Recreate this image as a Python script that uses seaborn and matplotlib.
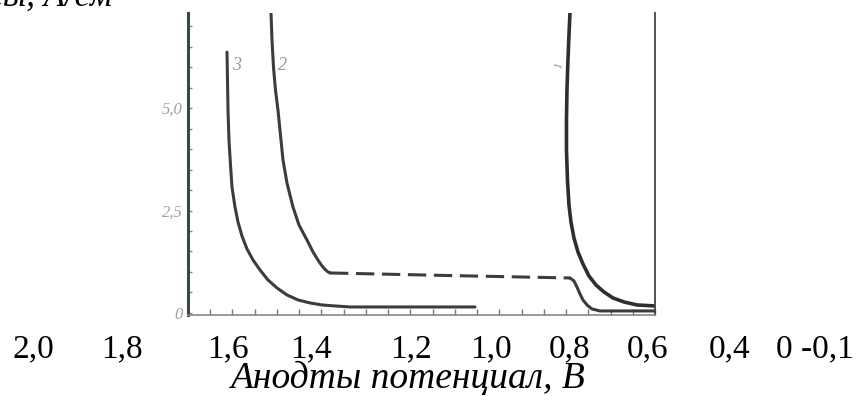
import numpy as np
import pandas as pd
import matplotlib
matplotlib.use("Agg")
import matplotlib.pyplot as plt
import seaborn as sns

# ---- data ----
# curve 3 (potential V, current density)
c3_x = [1.8246, 1.8224, 1.8201, 1.8157, 1.8089, 1.8022, 1.7887, 1.7752, 1.7572, 1.7347,
        1.7077, 1.6763, 1.6403, 1.5998, 1.5549, 1.5054, 1.4514, 1.3975, 1.3390, 1.2716,
        1.1367, 0.7095]
c3_y = [6.366, 5.683, 4.951, 4.220, 3.610, 3.073, 2.585, 2.220, 1.878, 1.561,
        1.293, 1.049, 0.805, 0.610, 0.439, 0.317, 0.244, 0.195, 0.171, 0.146,
        0.146, 0.146]
# curve 2: steep solid part, dashed plateau, final drop
c2a_x = [1.6268, 1.6223, 1.6156, 1.6066, 1.5954, 1.5841, 1.5728, 1.5549, 1.5279, 1.5009,
         1.4649, 1.4379, 1.4155, 1.3975, 1.3840, 1.3727, 1.3615]
c2a_y = [7.317, 6.659, 6.000, 5.439, 4.951, 4.341, 3.732, 3.171, 2.585, 2.146,
         1.780, 1.488, 1.290, 1.150, 1.065, 1.010, 0.976]
c2b_x = [1.3615, 0.800, 0.2824]
c2b_y = [0.976, 0.910, 0.854]
c2c_x = [0.2824, 0.2644, 0.2509, 0.2374, 0.2239, 0.2059, 0.1835, 0.1475, 0.0576, -0.100]
c2c_y = [0.854, 0.780, 0.634, 0.463, 0.317, 0.195, 0.098, 0.049, 0.049, 0.049]
# curve 1
c1_x = [0.2824, 0.2869, 0.2914, 0.2959, 0.2981, 0.2981, 0.2936, 0.2869, 0.2779, 0.2644,
        0.2464, 0.2239, 0.1970, 0.1655, 0.1295, 0.0890, 0.0396, -0.0189, -0.100]
c1_y = [7.317, 6.780, 6.171, 5.439, 4.707, 3.976, 3.244, 2.634, 2.220, 1.829,
        1.488, 1.195, 0.902, 0.683, 0.512, 0.366, 0.268, 0.195, 0.171]

y_ticks = [0.0, 2.5, 5.0]
y_tick_labels = ["0", "2,5", "5,0"]
curve_names = ["3", "2", "1"]
curve_label_x = [1.78, 1.573, 0.332]
curve_label_y = [6.05, 6.05, 6.05]

bottom_labels = ["2,0", "1,8", "1,6", "1,4", "1,2", "1,0", "0,8", "0,6", "0,4", "0 -0,1"]
bottom_label_px = [33, 122, 228, 311, 411, 491, 570, 648, 730, 815]
x_title = "Анодты потенциал, В"
y_title = "Ток тығыздығы, А/см"

# ---- style ----
sns.set_theme(style="white")
plt.rcParams["font.family"] = ["Liberation Serif", "DejaVu Serif"]

W, H = 862, 405
fig = plt.figure(figsize=(W / 100, H / 100), dpi=100)
fig.patch.set_facecolor("white")

left, right, top, bottom = 188, 655, 13, 315
ax = fig.add_axes([left / W, 1 - bottom / H, (right - left) / W, (bottom - top) / H])
ax.set_facecolor("white")

line_col = "#3c3c3c"
lw = 2.2
sns.lineplot(x=c3_x, y=c3_y, sort=False, estimator=None, ax=ax, color=line_col, lw=lw)
sns.lineplot(x=c2a_x, y=c2a_y, sort=False, estimator=None, ax=ax, color=line_col, lw=lw)
sns.lineplot(x=c2b_x, y=c2b_y, sort=False, estimator=None, ax=ax, color=line_col, lw=lw)
ax.lines[-1].set_dashes([6, 2.5])
sns.lineplot(x=c2c_x, y=c2c_y, sort=False, estimator=None, ax=ax, color=line_col, lw=lw)
sns.lineplot(x=c1_x, y=c1_y, sort=False, estimator=None, ax=ax, color="#2e2e2e", lw=2.6)
for ln in ax.lines:
    ln.set_solid_joinstyle("round")
    ln.set_solid_capstyle("round")

ax.set_xlim(2.0, -0.1)
ax.set_ylim(-0.05, 7.32)

ax.set_xticks(np.arange(2.0, -0.1001, -0.1))
ax.set_xticklabels([])
ax.set_yticks(y_ticks)
ax.set_yticklabels(y_tick_labels, color="#a0a0a0", style="italic", fontsize=12)
ax.set_yticks(np.arange(0, 7.3, 0.5), minor=True)
ax.tick_params(axis="x", which="both", direction="in", length=4, width=1, color="#777777",
               bottom=True, top=False)
ax.tick_params(axis="y", which="both", direction="in", length=3, width=1, color="#888888",
               left=True, right=False, pad=4)
ax.set_xlabel("")
ax.set_ylabel("")

ax.spines["top"].set_visible(False)
ax.spines["left"].set_color("#3a4a3a")
ax.spines["left"].set_linewidth(2.2)
ax.spines["right"].set_color("#444444")
ax.spines["right"].set_linewidth(1.3)
ax.spines["bottom"].set_color("#888888")
ax.spines["bottom"].set_linewidth(1.2)

for name, cx, cy in zip(curve_names, curve_label_x, curve_label_y):
    rot = 80 if name == "1" else 0
    fs = 9 if name == "1" else 13
    ax.text(cx, cy, name, color="#9a9a9a", style="italic", fontsize=fs,
            ha="center", va="center", rotation=rot)

# typed axis labels below the scan
for lab, px in zip(bottom_labels, bottom_label_px):
    fig.text(px / W, 1 - 357 / H, lab, ha="center", va="baseline", fontsize=24, color="black")

fig.text(407 / W, 1 - 388 / H, x_title, ha="center", va="baseline", fontsize=27,
         style="italic", color="black")
fig.text(112 / W, 1 - 6 / H, y_title, ha="right", va="baseline", fontsize=25,
         style="italic", color="black")

fig.savefig("out.png", dpi=100, facecolor="white")
